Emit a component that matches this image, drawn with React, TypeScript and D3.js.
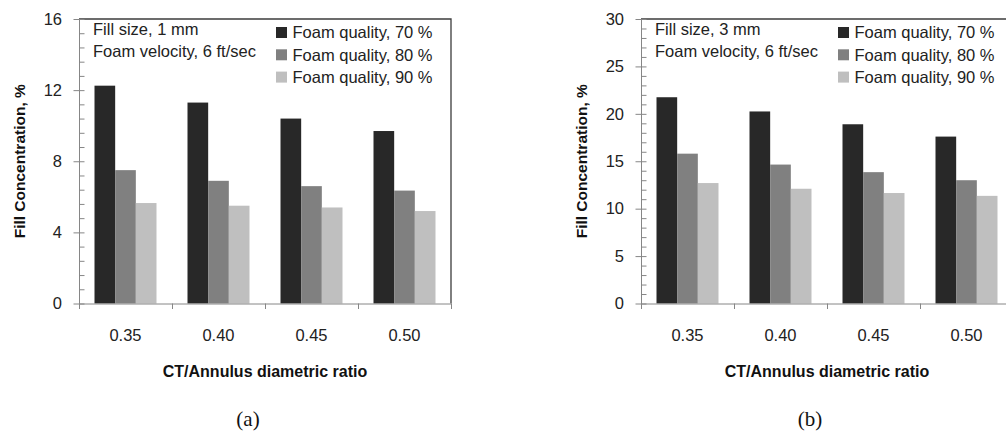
import React, { useEffect, useRef } from 'react';
import * as d3 from 'd3';

const W = 1006;
const H = 432;

const categories = ['0.35', '0.40', '0.45', '0.50'];
const seriesKeys = ['q70', 'q80', 'q90'];
const seriesNames = ['Foam quality, 70 %', 'Foam quality, 80 %', 'Foam quality, 90 %'];
const seriesColors = ['#282828', '#808080', '#bfbfbf'];

// panel (a): fill size 1 mm
const a70 = [12.25, 11.3, 10.4, 9.7];
const a80 = [7.5, 6.9, 6.6, 6.35];
const a90 = [5.65, 5.5, 5.4, 5.2];
const aTicks = [0, 4, 8, 12, 16];

// panel (b): fill size 3 mm
const b70 = [21.75, 20.25, 18.9, 17.6];
const b80 = [15.8, 14.65, 13.85, 13.0];
const b90 = [12.7, 12.1, 11.65, 11.35];
const bTicks = [0, 5, 10, 15, 20, 25, 30];

const FONT = "'Liberation Sans', Arial, sans-serif";

type Panel = {
  left: number;
  yMax: number;
  ticks: number[];
  minorStep: number;
  series: number[][];
  sizeLabel: string;
  caption: string;
  captionX: number;
};

const panels: Panel[] = [
  { left: 79, yMax: 16, ticks: aTicks, minorStep: 0.8, series: [a70, a80, a90], sizeLabel: 'Fill size, 1 mm', caption: '(a)', captionX: 248 },
  { left: 641, yMax: 30, ticks: bTicks, minorStep: 1, series: [b70, b80, b90], sizeLabel: 'Fill size, 3 mm', caption: '(b)', captionX: 810 },
];

function drawPanel(svg: any, p: Panel) {
  const top = 19;
  const bottom = 303.5;
  const right = p.left + 372;

  const x0 = d3.scaleBand().domain(categories).range([p.left, right]).paddingInner(0).paddingOuter(0);
  const x1 = d3.scaleBand().domain(seriesKeys).range([0, x0.bandwidth()]).paddingInner(0).paddingOuter(0.75);
  const y = d3.scaleLinear().domain([0, p.yMax]).range([bottom, top]);
  const color = d3.scaleOrdinal<string, string>().domain(seriesKeys).range(seriesColors);

  const g = svg.append('g');

  // bars
  const rows = categories.map((c, i) => ({
    cat: c,
    vals: seriesKeys.map((k, s) => ({ key: k, value: p.series[s][i] })),
  }));
  g.selectAll('g.grp')
    .data(rows)
    .enter().append('g')
    .attr('transform', (d: any) => `translate(${x0(d.cat)},0)`)
    .selectAll('rect')
    .data((d: any) => d.vals)
    .enter().append('rect')
    .attr('x', (d: any) => x1(d.key))
    .attr('y', (d: any) => y(d.value))
    .attr('width', x1.bandwidth())
    .attr('height', (d: any) => bottom - y(d.value))
    .attr('fill', (d: any) => color(d.key));

  // plot area border (top, right)
  g.append('path')
    .attr('d', `M${p.left},${top}H${right}V${bottom}`)
    .attr('fill', 'none')
    .attr('stroke', '#3c3c3c')
    .attr('stroke-width', 1.3);

  // y axis
  const yAxis = g.append('g').attr('transform', `translate(${p.left},0)`)
    .call(d3.axisLeft(y).tickValues(p.ticks).tickSize(5.5).tickSizeOuter(0).tickPadding(11.5).tickFormat(d3.format('d')));
  yAxis.select('.domain').attr('stroke', '#868686');
  yAxis.selectAll('line').attr('stroke', '#868686');
  yAxis.selectAll('text').attr('font-family', FONT).attr('font-size', 16.5).attr('fill', '#222');

  const minor = d3.range(0, p.yMax + 1e-6, p.minorStep);
  const yMinor = g.append('g').attr('transform', `translate(${p.left},0)`)
    .call(d3.axisRight(y).tickValues(minor).tickSize(5.5).tickFormat(() => ''));
  yMinor.select('.domain').remove();
  yMinor.selectAll('line').attr('stroke', '#868686');

  // x axis: boundary ticks + labels
  const xEdge = d3.scaleLinear().domain([0, categories.length]).range([p.left, right]);
  const xTicks = g.append('g').attr('transform', `translate(0,${bottom})`)
    .call(d3.axisBottom(xEdge).tickValues(d3.range(0, categories.length + 1)).tickSize(5.5).tickSizeOuter(0).tickFormat(() => ''));
  xTicks.select('.domain').attr('stroke', '#868686');
  xTicks.selectAll('line').attr('stroke', '#868686');

  const xLabels = g.append('g').attr('transform', `translate(0,${bottom})`)
    .call(d3.axisBottom(x0).tickSize(0).tickPadding(26));
  xLabels.select('.domain').remove();
  xLabels.selectAll('text').attr('font-family', FONT).attr('font-size', 16.5).attr('fill', '#222');

  // axis titles
  g.append('text')
    .attr('x', (p.left + right) / 2).attr('y', 371).attr('dy', '0.35em')
    .attr('text-anchor', 'middle')
    .attr('font-family', FONT).attr('font-size', 16).attr('font-weight', 'bold').attr('fill', '#111')
    .text('CT/Annulus diametric ratio');

  g.append('text')
    .attr('transform', `translate(${p.left - 59},${(top + bottom) / 2}) rotate(-90)`)
    .attr('dy', '0.35em')
    .attr('text-anchor', 'middle')
    .attr('font-family', FONT).attr('font-size', 15.5).attr('font-weight', 'bold').attr('fill', '#111')
    .text('Fill Concentration, %');

  // annotations
  [p.sizeLabel, 'Foam velocity, 6 ft/sec'].forEach((t, i) => {
    g.append('text')
      .attr('x', p.left + 14).attr('y', 29 + i * 22.5).attr('dy', '0.35em')
      .attr('font-family', FONT).attr('font-size', 16.5).attr('fill', '#222')
      .text(t);
  });

  // legend
  const legend = g.append('g').attr('transform', `translate(${p.left + 197},0)`);
  seriesKeys.forEach((k, i) => {
    const cy = 32.5 + i * 22.3;
    legend.append('rect').attr('x', 0).attr('y', cy - 5.5).attr('width', 11).attr('height', 11).attr('fill', color(k));
    legend.append('text')
      .attr('x', 16.5).attr('y', cy).attr('dy', '0.35em')
      .attr('font-family', FONT).attr('font-size', 16.5).attr('fill', '#222')
      .text(seriesNames[i]);
  });

  // caption
  g.append('text')
    .attr('x', p.captionX).attr('y', 419).attr('dy', '0.35em')
    .attr('text-anchor', 'middle')
    .attr('font-family', "'Liberation Serif', 'Times New Roman', serif").attr('font-size', 21).attr('fill', '#111')
    .text(p.caption);
}

export default function App() {
  const svgRef = useRef<SVGSVGElement>(null);

  useEffect(() => {
    const svg = d3.select(svgRef.current);
    svg.selectAll('*').remove();
    svg.append('rect').attr('width', W).attr('height', H).attr('fill', '#fff');
    panels.forEach(p => drawPanel(svg, p));
  }, []);

  return (
    <div style={{ position: 'absolute', left: 0, top: 0 }}>
      <svg ref={svgRef} width={W} height={H} style={{ display: 'block' }} />
    </div>
  );
}
